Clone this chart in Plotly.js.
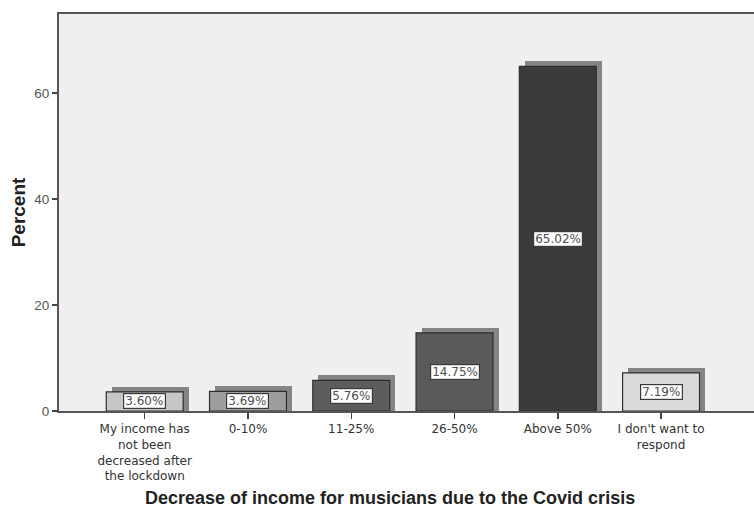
<!DOCTYPE html>
<html>
<head>
<meta charset="utf-8">
<script src="https://cdn.plot.ly/plotly-3.0.1.min.js"></script>
<style>html,body{margin:0;padding:0;background:#fff;}#chart{width:754px;height:510px;}</style>
</head>
<body>
<div id="chart"></div>
<script>
const categories = ["My income has<br>not been<br>decreased after<br>the lockdown", "0-10%", "11-25%", "26-50%", "Above 50%", "I don't want to<br>respond"];
const percents = [3.60, 3.69, 5.76, 14.75, 65.02, 7.19];
const barColors = ["#c6c6c6", "#9d9d9d", "#5d5d5d", "#5a5a5a", "#3b3b3b", "#dadada"];
const yTicks = [0, 20, 40, 60];

const idx = categories.map((c, i) => i);
const barW = 0.745;
const shadowDx = 0.055;
const shadowDy = 0.95;

const shadow = {
  type: 'bar', x: idx, y: percents.map(v => v + shadowDy),
  width: barW, offset: -barW / 2 + shadowDx,
  marker: {color: '#858585', line: {width: 0}},
  hoverinfo: 'skip', showlegend: false
};
const bars = {
  type: 'bar', x: idx, y: percents,
  width: barW,
  marker: {color: barColors, line: {color: '#2e2e2e', width: 1.2}},
  showlegend: false
};

const annotations = percents.map((v, i) => ({
  x: i, y: v / 2, xref: 'x', yref: 'y',
  text: v.toFixed(2) + '%', showarrow: false,
  height: 12, borderpad: 1,
  bgcolor: '#ffffff', bordercolor: '#3a3a3a', borderwidth: 1.2,
  font: {family: 'DejaVu Sans, sans-serif', size: 12, color: '#4d4d4d'}
}));
annotations.push({
  xref: 'paper', yref: 'paper', x: 0.476, y: -0.2494, xanchor: 'center', yanchor: 'bottom',
  text: '<b>Decrease of income for musicians due to the Covid crisis</b>', showarrow: false,
  font: {family: 'Liberation Sans, Arial, sans-serif', size: 18, color: '#222'}
});

const layout = {
  width: 754, height: 510,
  margin: {l: 59, r: 0, t: 14, b: 99},
  paper_bgcolor: '#ffffff', plot_bgcolor: '#efefef',
  barmode: 'overlay', bargap: 0,
  font: {family: 'Liberation Sans, Arial, sans-serif', color: '#333'},
  xaxis: {
    range: [-0.83, 5.9], tickvals: idx, ticktext: categories,
    showline: true, linecolor: '#555', linewidth: 2, mirror: true,
    ticks: 'outside', ticklen: 6, tickcolor: '#444', tickwidth: 1.5,
    showgrid: false, zeroline: false,
    tickfont: {family: 'DejaVu Sans, sans-serif', size: 12, color: '#333'}
  },
  yaxis: {
    range: [0, 74.9], tickvals: yTicks, ticktext: yTicks.map(String),
    showline: true, linecolor: '#555', linewidth: 2,
    ticks: 'outside', ticklen: 5, tickcolor: '#444', tickwidth: 1.5,
    showgrid: false, zeroline: false,
    tickfont: {size: 13.5, color: '#555'},
    title: {text: '<b>Percent</b>', font: {size: 19, color: '#222'}, standoff: 4}
  },
  annotations: annotations
};

Plotly.newPlot('chart', [shadow, bars], layout, {displayModeBar: false, staticPlot: true});
</script>
</body>
</html>
